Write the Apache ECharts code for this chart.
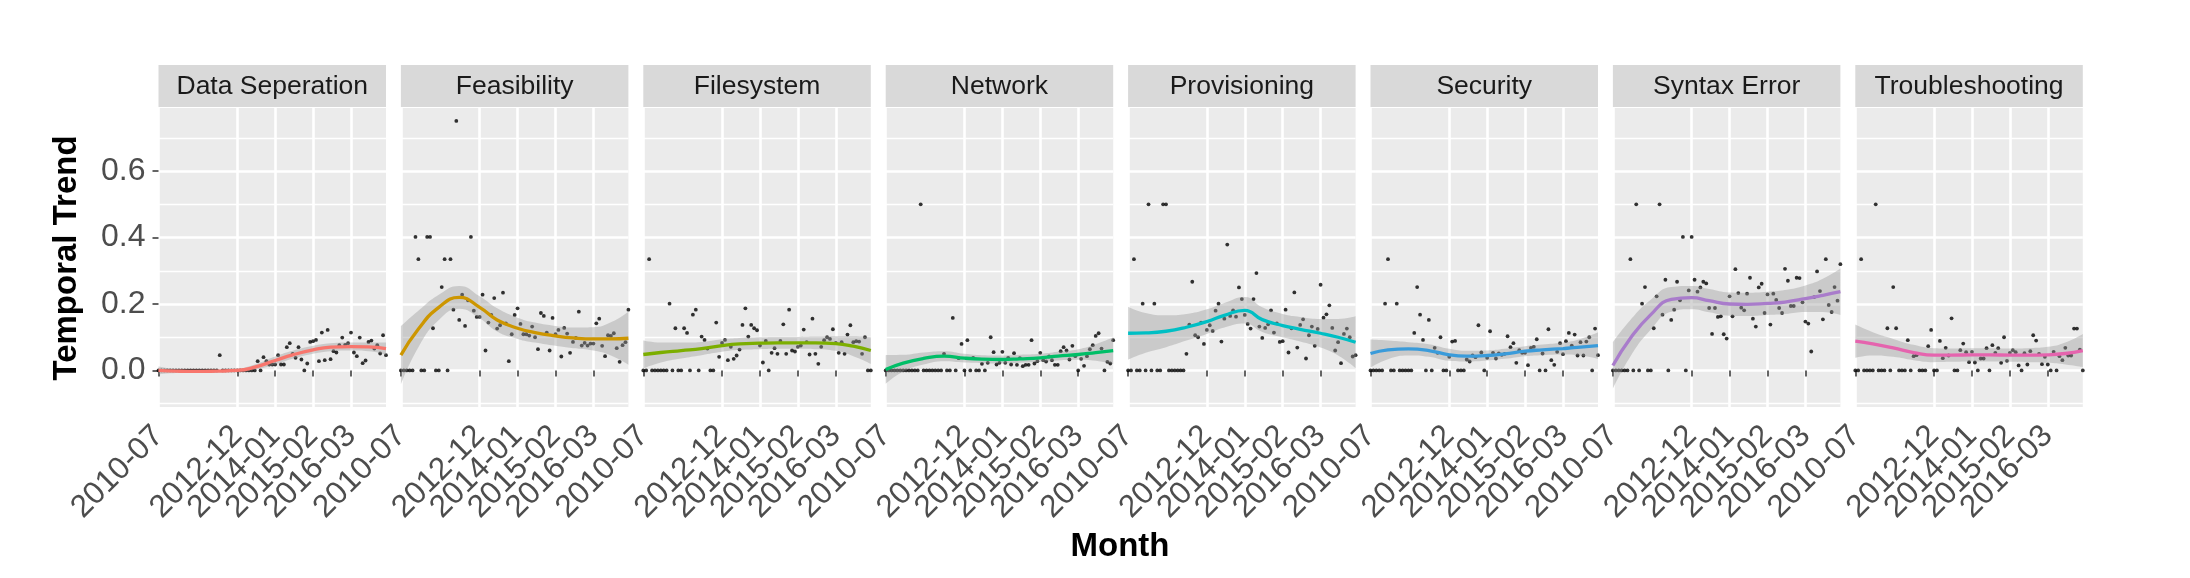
<!DOCTYPE html>
<html><head><meta charset="utf-8">
<script src="https://cdn.jsdelivr.net/npm/echarts@6/dist/echarts.min.js"></script>
<style>html,body{margin:0;padding:0;background:#fff}#c{width:2190px;height:578px}</style>
</head><body><div id="c"></div>
<script>
// ---- data ----
const months = [
 '2010-07','2010-08','2010-09','2010-10','2010-11','2010-12',
 '2011-03','2011-04','2011-05','2011-06','2011-07','2011-08','2011-09','2011-10','2011-11','2011-12',
 '2012-01','2012-02','2012-03','2012-04','2012-05','2012-06','2012-07','2012-08','2012-09','2012-10','2012-11','2012-12',
 '2013-01','2013-02','2013-03','2013-04','2013-05','2013-06','2013-07','2013-08','2013-09','2013-10','2013-11','2013-12',
 '2014-01','2014-02','2014-03','2014-04','2014-05','2014-06','2014-07','2014-08','2014-09','2014-10','2014-11','2014-12',
 '2015-01','2015-02','2015-03','2015-04','2015-05','2015-06','2015-07','2015-08','2015-09','2015-10','2015-11','2015-12',
 '2016-01','2016-02','2016-03','2016-04','2016-05','2016-06','2016-07','2016-08','2016-09','2016-10','2016-11','2016-12',
 '2017-01','2017-02','2017-03'];
const tickLabels = ['2010-07','2012-12','2014-01','2015-02','2016-03'];
const yMajor = [0, 0.2, 0.4, 0.6];
const yMinor = [-0.1, 0.1, 0.3, 0.5, 0.7];
const facets = ['Data Seperation','Feasibility','Filesystem','Network','Provisioning','Security','Syntax Error','Troubleshooting'];
const facetColors = ['#F8766D','#CD9600','#7CAE00','#00BE67','#00BFC4','#3A9BDA','#A97CCB','#E564AE'];

const valsDataSeperation = [
 0,0,0,0,0,0,0,0,0,0,
 0,0,0,0,0,0,0,0,0,0,
 0,0.046,0,0,0,0,0,0,0,0,
 0,0,0,0,0.028,0,0.040,0.028,0.018,0.018,
 0.018,0.046,0.018,0.018,0.070,0.082,0.050,0.038,0.070,0.033,
 0,0.021,0.086,0.088,0.092,0.028,0.114,0.031,0.122,0.034,
 0.058,0.054,0.076,0.099,0.077,0.082,0.114,0.054,0.043,0.099,
 0.022,0.030,0.086,0.090,0.066,0.076,0.051,0.106,0.046];
const valsFeasibility = [
 0,0,0,0,0,0.402,0.335,0,0,0.402,
 0.402,0.127,0,0,0.251,0.335,0,0.335,0.183,0.751,
 0.152,0.228,0.134,0.211,0.402,0.180,0.161,0.161,0.228,0.060,
 0.144,0.167,0.218,0.126,0.136,0.234,0.142,0.028,0.109,0.167,
 0.187,0.140,0.109,0.109,0.105,0.132,0.100,0.064,0.173,0.164,
 0.114,0.060,0.158,0.109,0.122,0.042,0.128,0.111,0.053,0.086,
 0.098,0.177,0.075,0.083,0.075,0.081,0.081,0.142,0.156,0.074,
 0.043,0.106,0.104,0.112,0.067,0.026,0.076,0.085,0.183];
const valsFilesystem = [
 0,0,0.335,0,0,0,0,0,0,0.201,
 0,0.127,0,0,0.127,0.113,0,0.168,0.183,0,
 0.102,0.092,0.066,0,0,0.144,0.041,0.083,0.092,0.031,
 0.071,0.035,0.045,0.063,0.137,0.187,0.102,0.137,0.127,0.121,
 0.075,0.024,0.089,0,0.053,0.067,0.050,0.089,0.139,0.050,
 0.183,0.060,0.057,0.071,0.075,0.123,0.085,0.048,0.156,0.050,
 0.020,0.071,0.091,0.100,0.095,0.124,0.083,0.053,0.085,0.050,
 0.108,0.136,0.085,0.088,0.087,0.050,0.100,0,0];
const valsNetwork = [
 0,0,0,0,0,0,0,0,0,0,
 0,0,0.5,0,0,0,0,0,0,0,
 0.050,0,0,0.158,0,0.037,0.080,0,0.091,0,
 0.038,0,0,0.020,0,0.023,0.100,0.055,0.018,0.023,
 0.056,0.023,0.038,0.018,0.052,0.017,0.037,0.013,0.017,0.017,
 0.091,0.021,0.028,0.053,0.031,0.027,0.042,0.031,0.017,0.017,
 0.058,0.070,0.060,0.033,0.074,0.043,0,0.035,0.014,0.043,
 0.064,0.076,0.104,0.112,0.066,0,0.026,0.021,0.091];
const valsProvisioning = [
 0,0,0.335,0,0,0.201,0,0.5,0,0.201,
 0,0,0.5,0.5,0,0,0,0,0,0,
 0.050,0.138,0.267,0.106,0.100,0.144,0.080,0.122,0.136,0.119,
 0.180,0.201,0.087,0.156,0.379,0.164,0.181,0.162,0.250,0.215,
 0.167,0.140,0.126,0.215,0.293,0.132,0.098,0.128,0.139,0.181,
 0.114,0.142,0.086,0.088,0.183,0.054,0.127,0.235,0.069,0.137,
 0.154,0.036,0.106,0.132,0.074,0.125,0.258,0.159,0.169,0.196,
 0.128,0.060,0.085,0.022,0.110,0.126,0.100,0.042,0.046];
const valsSecurity = [
 0,0,0,0,0,0.201,0.335,0,0,0.201,
 0,0,0,0,0,0.113,0.251,0.168,0.092,0,
 0.152,0,0.068,0.053,0.100,0,0,0.041,0.087,0.089,
 0,0,0,0.033,0.027,0.045,0.040,0.136,0.054,0,
 0.038,0.118,0.053,0.036,0.051,0.047,0.050,0.103,0.070,0.082,
 0.023,0.061,0.053,0.053,0.016,0.068,0.071,0.094,0,0.051,
 0,0.124,0.031,0.017,0.056,0.082,0.049,0.088,0.113,0.075,
 0.108,0.045,0.085,0.045,0.087,0.100,0,0.126,0.046];
const valsSyntaxError = [
 0,0,0,0,0,0,0.335,0,0.5,0,
 0.201,0.251,0,0,0.127,0.223,0.5,0.168,0.273,0,
 0.152,0.183,0.267,0.211,0.402,0,0.241,0.402,0.273,0.237,
 0.250,0.267,0.262,0.188,0.110,0.188,0.161,0.163,0.109,0.096,
 0.223,0.163,0.305,0.233,0.189,0.181,0.231,0.279,0.156,0.132,
 0.250,0.261,0.173,0.229,0.138,0.231,0.212,0.188,0.173,0.306,
 0.270,0.194,0.194,0.279,0.278,0.205,0.147,0.141,0.057,0.221,
 0.298,0.239,0.154,0.335,0.197,0.176,0.251,0.210,0.320];
const valsTroubleshooting = [
 0,0,0.335,0,0,0,0,0.5,0,0,
 0,0.127,0,0.251,0.127,0,0,0,0.091,0,
 0.043,0.046,0,0,0,0.073,0.122,0,0,0.089,
 0.037,0.068,0.045,0.157,0,0,0.061,0.081,0.055,0.025,
 0.056,0.024,0,0.036,0.036,0.067,0,0.076,0.053,0.067,
 0.023,0.100,0.029,0.053,0.061,0.055,0.015,0,0.052,0.018,
 0.058,0.106,0.090,0.050,0.019,0.041,0.018,0,0.056,0,
 0.043,0.031,0.068,0.045,0.045,0.126,0.126,0.063,0];

// smoothed fit (loess) and half-width of its band, at these category indices
const smoothAt = [0,6,13,20,27,33,40,46,53,59,66,72,78];
const fitDataSeperation = [0.000,-0.002,-0.003,-0.002,0.000,0.010,0.030,0.047,0.062,0.070,0.072,0.071,0.066];
const seDataSeperation  = [0.012,0.006,0.004,0.004,0.005,0.008,0.012,0.012,0.012,0.012,0.012,0.013,0.018];
const fitFeasibility = [0.046,0.125,0.190,0.220,0.190,0.152,0.127,0.114,0.104,0.098,0.095,0.095,0.097];
const seFeasibility  = [0.088,0.055,0.038,0.034,0.033,0.035,0.032,0.030,0.030,0.031,0.035,0.050,0.080];
const fitFilesystem = [0.048,0.054,0.060,0.066,0.075,0.080,0.082,0.083,0.083,0.083,0.081,0.073,0.060];
const seFilesystem  = [0.042,0.030,0.024,0.020,0.019,0.018,0.018,0.018,0.018,0.019,0.022,0.030,0.040];
const fitNetwork = [0.003,0.022,0.036,0.043,0.037,0.034,0.033,0.035,0.038,0.043,0.048,0.054,0.060];
const seNetwork  = [0.043,0.025,0.018,0.015,0.013,0.012,0.012,0.012,0.012,0.013,0.016,0.025,0.040];
const fitProvisioning = [0.112,0.113,0.118,0.130,0.147,0.166,0.181,0.153,0.135,0.124,0.112,0.100,0.085];
const seProvisioning  = [0.080,0.060,0.048,0.040,0.037,0.037,0.040,0.037,0.035,0.037,0.043,0.055,0.078];
const fitSecurity = [0.051,0.062,0.065,0.060,0.047,0.043,0.045,0.050,0.058,0.062,0.066,0.070,0.075];
const seSecurity  = [0.042,0.028,0.020,0.019,0.018,0.016,0.015,0.015,0.015,0.016,0.018,0.025,0.040];
const fitSyntaxError = [0.015,0.097,0.168,0.214,0.219,0.210,0.200,0.199,0.202,0.206,0.216,0.226,0.237];
const seSyntaxError  = [0.070,0.055,0.045,0.037,0.035,0.035,0.035,0.035,0.035,0.036,0.040,0.050,0.070];
const fitTroubleshooting = [0.088,0.080,0.068,0.054,0.046,0.046,0.047,0.047,0.046,0.046,0.047,0.051,0.060];
const seTroubleshooting  = [0.050,0.035,0.027,0.023,0.021,0.020,0.020,0.020,0.020,0.021,0.024,0.033,0.050];

const facetVals = [valsDataSeperation,valsFeasibility,valsFilesystem,valsNetwork,valsProvisioning,valsSecurity,valsSyntaxError,valsTroubleshooting];
const facetFit = [fitDataSeperation,fitFeasibility,fitFilesystem,fitNetwork,fitProvisioning,fitSecurity,fitSyntaxError,fitTroubleshooting];
const facetSe = [seDataSeperation,seFeasibility,seFilesystem,seNetwork,seProvisioning,seSecurity,seSyntaxError,seTroubleshooting];

// ---- layout ----
const FONT = 'Liberation Sans, Arial, Helvetica, sans-serif';
const left0 = 158.5, pitch = 242.4, panelW = 227.5, panelTop = 108, panelH = 299;
const isTick = (i, v) => tickLabels.indexOf(v) >= 0;
// labels split over two stacked axes so ECharts does not drop near-touching rotated labels
const labelsA = tickLabels.filter((v, i) => i % 2 === 0);
const labelsB = tickLabels.filter((v, i) => i % 2 === 1);
const inA = (i, v) => labelsA.indexOf(v) >= 0;
const inB = (i, v) => labelsB.indexOf(v) >= 0;
const labelStyle = {rotate: 45, margin: 24, fontSize: 31.5, color: '#4D4D4D', fontFamily: FONT,
  showMinLabel: true, showMaxLabel: true, hideOverlap: false};

const grids = [], xAxes = [], yAxes = [], series = [], graphics = [];
facets.forEach((name, k) => {
  const left = left0 + pitch * k;
  grids.push({left: left, top: panelTop, width: panelW, height: panelH, show: true,
    backgroundColor: '#EBEBEB', borderWidth: 0, containLabel: false});
  xAxes.push({type: 'category', gridIndex: k, data: months, boundaryGap: false, position: 'bottom',
    axisLine: {show: false},
    axisTick: {show: true, length: 6, interval: isTick, lineStyle: {color: '#333333', width: 1.5}},
    axisLabel: Object.assign({show: true, interval: inA}, labelStyle),
    splitLine: {show: true, interval: isTick, lineStyle: {color: '#FFFFFF', width: 2.6}}});
  xAxes.push({type: 'category', gridIndex: k, data: months, boundaryGap: false, position: 'bottom', offset: 0,
    axisLine: {show: false}, axisTick: {show: false}, splitLine: {show: false},
    axisLabel: Object.assign({show: true, interval: inB}, labelStyle)});
  yAxes.push({type: 'value', gridIndex: k, min: -0.11, max: 0.79, position: 'left',
    axisLine: {show: false},
    axisTick: {show: k === 0, length: 6, customValues: yMajor, lineStyle: {color: '#333333', width: 1.5}},
    axisLabel: {show: k === 0, customValues: yMajor, margin: 13, fontSize: 32, color: '#4D4D4D', fontFamily: FONT,
      formatter: v => Number(v).toFixed(1)},
    splitLine: {show: true, lineStyle: {color: '#FFFFFF', width: 2.6}}});
  yAxes.push({type: 'value', gridIndex: k, min: -0.11, max: 0.79, position: 'left',
    axisLine: {show: false},
    axisTick: {show: false, customValues: yMinor},
    axisLabel: {show: false, customValues: yMinor},
    splitLine: {show: true, lineStyle: {color: '#FFFFFF', width: 1.3}}});

  const fit = facetFit[k], se = facetSe[k];
  const xi = 2 * k, yi = 2 * k;
  series.push({type: 'scatter', xAxisIndex: xi, yAxisIndex: yi, data: facetVals[k],
    symbolSize: 3.8, itemStyle: {color: '#000000'}, z: 2, silent: true});
  series.push({type: 'line', xAxisIndex: xi, yAxisIndex: yi, stack: 'band' + k, stackStrategy: 'all',
    data: smoothAt.map((x, i) => [x, fit[i] - se[i]]), smooth: true, symbol: 'none',
    lineStyle: {opacity: 0}, z: 3, silent: true});
  series.push({type: 'line', xAxisIndex: xi, yAxisIndex: yi, stack: 'band' + k, stackStrategy: 'all',
    data: smoothAt.map((x, i) => [x, 2 * se[i]]), smooth: true, symbol: 'none',
    lineStyle: {opacity: 0}, areaStyle: {color: 'rgba(153,153,153,0.4)', opacity: 1}, z: 3, silent: true});
  series.push({type: 'line', xAxisIndex: xi, yAxisIndex: yi,
    data: smoothAt.map((x, i) => [x, fit[i]]), smooth: true, symbol: 'none',
    lineStyle: {color: facetColors[k], width: 3.3}, z: 4, silent: true});

  graphics.push({type: 'rect', shape: {x: left, y: 65, width: panelW, height: 42},
    style: {fill: '#D9D9D9'}, silent: true});
  graphics.push({type: 'text', x: left + panelW / 2, y: 87, silent: true,
    style: {text: name, fontSize: 26.5, fontFamily: FONT, fill: '#1A1A1A',
      align: 'center', verticalAlign: 'middle', textAlign: 'center', textVerticalAlign: 'middle'}});
});

graphics.push({type: 'text', x: 1120, y: 547, silent: true,
  style: {text: 'Month', fontSize: 33, fontWeight: 'bold', fontFamily: FONT, fill: '#000000',
    align: 'center', verticalAlign: 'middle', textAlign: 'center', textVerticalAlign: 'middle'}});
graphics.push({type: 'text', x: 67, y: 258, rotation: Math.PI / 2, silent: true,
  style: {text: 'Temporal Trend', fontSize: 33, fontWeight: 'bold', fontFamily: FONT, fill: '#000000',
    align: 'center', verticalAlign: 'middle', textAlign: 'center', textVerticalAlign: 'middle'}});

const chart = echarts.init(document.getElementById('c'), null, {renderer: 'canvas'});
chart.setOption({
  animation: false,
  backgroundColor: '#FFFFFF',
  textStyle: {fontFamily: FONT},
  grid: grids, xAxis: xAxes, yAxis: yAxes, series: series, graphic: graphics
});
</script></body></html>
